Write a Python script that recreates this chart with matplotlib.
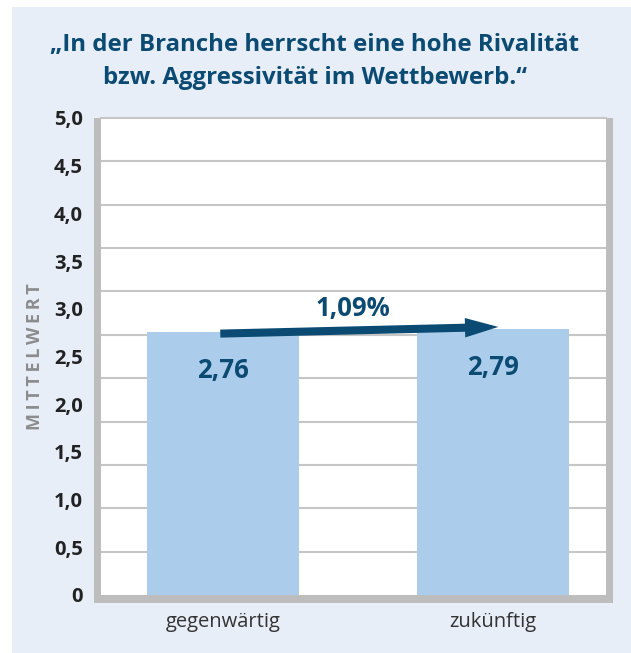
import matplotlib.pyplot as plt
import numpy as np
from matplotlib.patches import Rectangle

plt.rcParams["font.family"] = ["Open Sans", "DejaVu Sans"]

categories = ["gegenwärtig", "zukünftig"]
values = [2.76, 2.79]
change_label = "1,09%"
y_ticks = np.arange(0, 5.01, 0.5)
y_tick_labels = ["0"] + [f"{t:.1f}".replace(".", ",") for t in y_ticks[1:]]
title = "„In der Branche herrscht eine hohe Rivalität\nbzw. Aggressivität im Wettbewerb.“"

W, H = 631, 653
top_px, bot_px = 118, 595
fig = plt.figure(figsize=(W / 100, H / 100), dpi=100)
fig.patch.set_facecolor("white")

# light blue panel + grey frame behind the axes
fig.add_artist(Rectangle((12 / W, 0), 1 - 12 / W, (H - 7) / H, transform=fig.transFigure,
                         facecolor="#e7eef8", edgecolor="none", zorder=-3))
fig.add_artist(Rectangle((94 / W, (H - bot_px - 8) / H), (613 - 94) / W,
                         (bot_px + 8 - top_px) / H, transform=fig.transFigure,
                         facecolor="#bdbdbd", edgecolor="none", zorder=-2))

ax = fig.add_axes([101 / W, (H - bot_px) / H, 504.5 / W, (bot_px - top_px) / H])
ax.set_facecolor("white")

x = np.arange(len(categories))
bar_color = "#abcdeb"
dark_blue = "#0b4a72"
ax.bar(x, values, width=0.563, color=bar_color, zorder=2)

ax.set_xlim(-0.452, 1.417)
ax.set_ylim(0, 5)
ax.set_yticks(y_ticks, y_tick_labels)
ax.set_xticks(x, categories)
ax.set_yticks(np.linspace(0, 5, 12), minor=True)
ax.grid(False)
ax.yaxis.grid(True, which="minor", color="#c6c6c6", linewidth=1.5)
ax.set_axisbelow(True)
ax.tick_params(axis="both", which="both", length=0)
ax.tick_params(axis="y", pad=13, labelsize=14.5, labelcolor="#222222")
ax.tick_params(axis="x", pad=12, labelsize=14.5, labelcolor="#333333")
for lab in ax.get_yticklabels():
    lab.set_fontweight("bold")
for side in ["left", "right", "bottom"]:
    ax.spines[side].set_visible(False)
ax.spines["top"].set_color("#c6c6c6")
ax.spines["top"].set_linewidth(1.5)

ax.set_ylabel("M\u2009I\u2009T\u2009T\u2009E\u2009L\u2009W\u2009E\u2009R\u2009T", fontsize=13,
              fontweight="bold", color="#8c8c8c", va="center")
ax.yaxis.set_label_coords(-0.131, 0.5)

# value labels inside bars
for xi, v in zip(x, values):
    ax.annotate(f"{v:.2f}".replace(".", ","), (xi, v), xytext=(0, -28),
                textcoords="offset points", ha="center", va="center",
                fontsize=18.5, fontweight="bold", color=dark_blue)

# trend arrow
ax.annotate("", xy=(x[1] + 0.02, values[1] + 0.02), xytext=(x[0] - 0.01, values[0] - 0.02),
            arrowprops=dict(arrowstyle="simple,head_length=24,head_width=14,tail_width=5.8",
                            mutation_scale=1, color=dark_blue, lw=0,
                            shrinkA=0, shrinkB=0), zorder=4)
mid_x = (x[0] + x[1]) / 2 - 0.02
mid_y = (values[0] + values[1]) / 2
ax.annotate(change_label, (mid_x, mid_y), xytext=(0, 16), textcoords="offset points",
            ha="center", va="center", fontsize=18.5, fontweight="bold", color=dark_blue)

fig.text(315 / W, 1 - 61.5 / H, title, ha="center", va="center", fontsize=17.3,
         fontweight="bold", color=dark_blue, linespacing=1.45)

fig.savefig("out.png", dpi=100)
